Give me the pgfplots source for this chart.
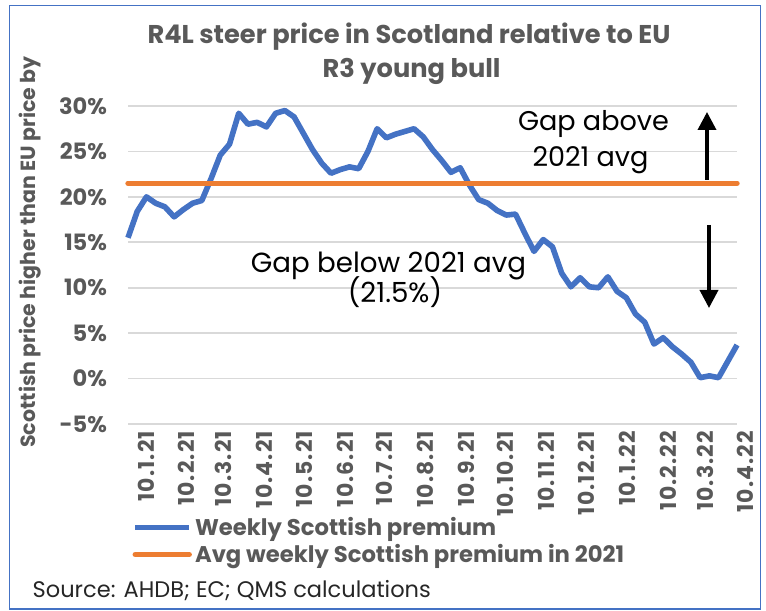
\documentclass[border=0pt]{standalone}
\usepackage{pgfplots}
\pgfplotsset{compat=1.18}
\usepackage{fontspec}
\setmainfont{Poppins}
\newfontfamily\tickfont{Poppins}[LetterSpace=5]
\usetikzlibrary{arrows.meta}
\definecolor{txtgray}{HTML}{595959}
\definecolor{lineblue}{HTML}{4472C4}
\definecolor{lineorange}{HTML}{ED7D31}
\definecolor{gridgray}{HTML}{D9D9D9}
\pgfplotstableread{
day val
0 15.5
7 18.4
14 20.0
21 19.3
28 18.9
35 17.8
42 18.6
49 19.3
56 19.6
63 22.0
70 24.6
77 25.8
84 29.2
91 28.0
98 28.2
105 27.7
112 29.2
119 29.5
126 28.8
133 27.0
140 25.2
147 23.7
154 22.6
161 23.0
168 23.3
175 23.1
182 25.0
189 27.5
196 26.5
203 26.9
210 27.2
217 27.5
224 26.6
231 25.2
238 24.0
245 22.7
252 23.2
259 21.3
266 19.7
273 19.3
280 18.5
287 18.0
294 18.1
301 16.0
308 14.0
315 15.3
322 14.5
329 11.6
336 10.1
343 11.1
350 10.1
357 10.0
364 11.2
371 9.6
378 8.9
385 7.1
392 6.2
399 3.8
406 4.5
413 3.5
420 2.7
427 1.8
434 0.1
441 0.3
448 0.1
455 1.9
462 3.7
}\weekly
\begin{document}
\begin{tikzpicture}[x=0.5bp,y=-0.5bp]
\useasboundingbox (0,0) rectangle (766,611);
\draw[color=lineblue, line width=0.8bp] (9.5,5.5) rectangle (760.5,609);
\begin{axis}[
  at={(64bp,-212bp)}, anchor=south west,
  width=304.5bp, height=159bp, scale only axis,
  xmin=0, xmax=462, ymin=-5, ymax=30,
  axis line style={draw=none},
  major tick length=0pt,
  ytick={-5,0,5,10,15,20,25,30},
  yticklabels={-5\%,0\%,5\%,10\%,15\%,20\%,25\%,30\%},
  ymajorgrids, grid style={color=gridgray, line width=0.9bp},
  xtick={0,31,59,90,120,151,181,212,243,273,304,334,365,396,424,455},
  xticklabels={10.1.21,10.2.21,10.3.21,10.4.21,10.5.21,10.6.21,10.7.21,10.8.21,10.9.21,10.10.21,10.11.21,10.12.21,10.1.22,10.2.22,10.3.22,10.4.22},
  x tick label style={rotate=90, anchor=east, font=\fontsize{11}{12}\tickfont\bfseries, text=txtgray, yshift=-9bp},
  y tick label style={font=\fontsize{11.3}{12}\selectfont\bfseries, text=txtgray, xshift=-7bp},
  legend style={at={(0.0066,-0.368)}, anchor=west, draw=none, fill=none,
    font=\fontsize{11.4}{13.5}\selectfont\bfseries, text=txtgray, row sep=0bp,
    inner sep=0pt, nodes={inner sep=1.5bp}},
  legend cell align=left,
  legend image code/.code={\draw[#1] (0bp,0bp) -- (27bp,0bp);},
  clip=false,
]
\addplot[color=lineblue, line width=2.8bp, line join=round] table[x=day,y=val] {\weekly};
\addlegendentry{Weekly Scottish premium}
\addplot[color=lineorange, line width=2.7bp, line cap=round] coordinates {(0,21.5) (462,21.5)};
\addlegendentry{Avg weekly Scottish premium in 2021}
\end{axis}
% title
\node[anchor=base, text=txtgray, font=\fontsize{12.9}{14}\selectfont\bfseries] at (409,43.3) {R4L steer price in Scotland relative to EU};
\node[anchor=base, text=txtgray, font=\fontsize{12.9}{14}\selectfont\bfseries] at (411.6,78) {R3 young bull};
% y label
\node[rotate=90, text=txtgray, font=\fontsize{10.3}{12}\selectfont\bfseries] at (30,252) {Scottish price higher than EU price by};
% annotations
\node[anchor=base, font=\fontsize{13.6}{15}\selectfont] at (593.5,131) {Gap above};
\node[anchor=base, font=\fontsize{13.6}{15}\selectfont] at (590.5,166.7) {2021 avg};
\node[anchor=base, font=\fontsize{13.9}{15}\selectfont] at (388.5,273) {Gap below 2021 avg};
\node[anchor=base, font=\fontsize{13.9}{15}\selectfont] at (395,303) {(21.5\%)};
\draw[line width=1.8bp, -{Triangle[width=9bp,length=9bp]}] (707,180) -- (707,112);
\draw[line width=1.8bp, -{Triangle[width=9bp,length=9bp]}] (709,225) -- (709,308);
% source
\node[anchor=base west, inner sep=0pt, text=black!85, font=\fontsize{11.3}{13}\selectfont] at (32.3,597) {Source: AHDB; EC; QMS calculations};
\end{tikzpicture}
\end{document}
